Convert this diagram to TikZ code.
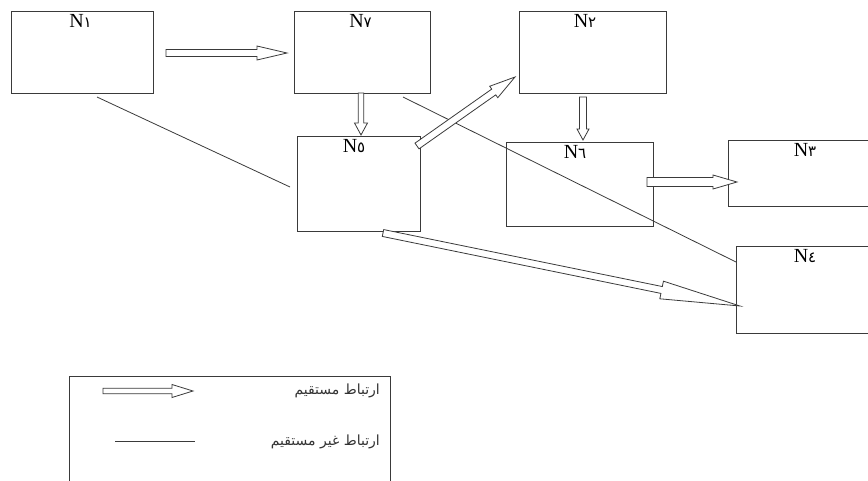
\documentclass[tikz,border=0pt]{standalone}
\usepackage{fontspec}
\setmainfont{Liberation Serif}
\newfontfamily\arabicfont[Script=Arabic]{DejaVu Sans}
\TeXXeTstate=1
\usetikzlibrary{calc}
\definecolor{ink}{HTML}{3A3A3A}
\tikzset{
  box/.style={draw=ink, line width=1pt, anchor=north west, inner sep=0pt},
  lbl/.style={anchor=north, inner sep=0pt, font=\fontsize{20}{20}\selectfont, text=black},
  thin/.style={draw=ink, line width=0.8pt},
  blk/.style={draw=ink, line width=0.8pt, fill=white, line join=miter},
  leg/.style={anchor=east, inner sep=0pt, text=black!80, font=\fontsize{14}{16}\selectfont\arabicfont}
}
\newcommand\dg[1]{{\arabicfont\fontsize{15}{15}\selectfont #1}}
% block arrow: #1 start, #2 end, #3 shaft half width, #4 head half width, #5 head length
\newcommand\blockarr[5]{%
  \coordinate (hh) at ($(#2)!#5!(#1)$);
  \draw[blk] ($(#1)!#3!-90:(#2)$) -- ($(hh)!#3!-90:(#2)$)
    -- ($(hh)!#4!-90:(#2)$) -- (#2) -- ($(hh)!#4!90:(#2)$)
    -- ($(hh)!#3!90:(#2)$) -- ($(#1)!#3!90:(#2)$) -- cycle;}
\begin{document}
\begin{tikzpicture}[x=1pt,y=-1pt]
\useasboundingbox (0,0) rectangle (868,480);
\clip (0,0) rectangle (868,480);
% boxes
\node[box, minimum width=142pt, minimum height=82pt] (n1) at (11,11) {};
\node[box, minimum width=136pt, minimum height=82pt] (n7) at (294,11) {};
\node[box, minimum width=147pt, minimum height=82pt] (n2) at (519,11) {};
\node[box, minimum width=123pt, minimum height=95pt] (n5) at (297,136) {};
\node[box, minimum width=147pt, minimum height=84pt] (n6) at (506,142) {};
\node[box, minimum width=170pt, minimum height=66pt] (n3) at (728,140) {};
\node[box, minimum width=170pt, minimum height=87pt] (n4) at (736,246) {};
% labels
\node[lbl] (l1) at ($(n1.north)+(-2,3)$) {N\dg{١}};
\node[lbl] (l7) at ($(n7.north)+(-2,3)$) {N\dg{٧}};
\node[lbl] (l2) at ($(n2.north)+(-8,3)$) {N\dg{٢}};
\node[lbl] (l5) at ($(n5.north)+(-5,3)$) {N\dg{٥}};
\node[lbl] (l6) at ($(n6.north)+(-5,3)$) {N\dg{٦}};
\node[lbl] (l3) at (805,143) {N\dg{٣}};
\node[lbl] (l4) at (805,249) {N\dg{٤}};
% connector end points
\coordinate (a1s) at (166,53);  \coordinate (a1e) at (287,53);
\coordinate (a2s) at (361,93);  \coordinate (a2e) at (361,135);
\coordinate (a3s) at (417,146); \coordinate (a3e) at (515,77);
\coordinate (a4s) at (583,97);  \coordinate (a4e) at (583,140);
\coordinate (a5s) at (647,182); \coordinate (a5e) at (737,182);
\coordinate (a6s) at (383,233); \coordinate (a6e) at (740,306);
\coordinate (s1s) at (97,97);   \coordinate (s1e) at (290,187);
\coordinate (s2s) at (403,97);  \coordinate (s2e) at (736,262);
% indirect links
\draw[thin] (s1s) -- (s1e);
\draw[thin] (s2s) -- (s2e);
% direct links
\blockarr{a1s}{a1e}{3.5pt}{7pt}{30pt}
\blockarr{a2s}{a2e}{2.8pt}{6.5pt}{12pt}
\blockarr{a3s}{a3e}{3.5pt}{7pt}{26pt}
\blockarr{a4s}{a4e}{3.5pt}{6pt}{11pt}
\blockarr{a5s}{a5e}{4.5pt}{7pt}{24pt}
\blockarr{a6s}{a6e}{3.5pt}{9pt}{80pt}
% legend
\node[box, minimum width=321pt, minimum height=130pt] (legend) at (69,376) {};
\coordinate (g1s) at (103,391); \coordinate (g1e) at (193,391);
\coordinate (g2s) at (115,441); \coordinate (g2e) at (195,441);
\blockarr{g1s}{g1e}{2.8pt}{6.5pt}{21pt}
\draw[thin] (g2s) -- (g2e);
\node[leg] (t1) at (380,391) {\beginR ارتباط مستقيم\endR};
\node[leg] (t2) at (380,442) {\beginR ارتباط غير مستقيم\endR};
\end{tikzpicture}
\end{document}
